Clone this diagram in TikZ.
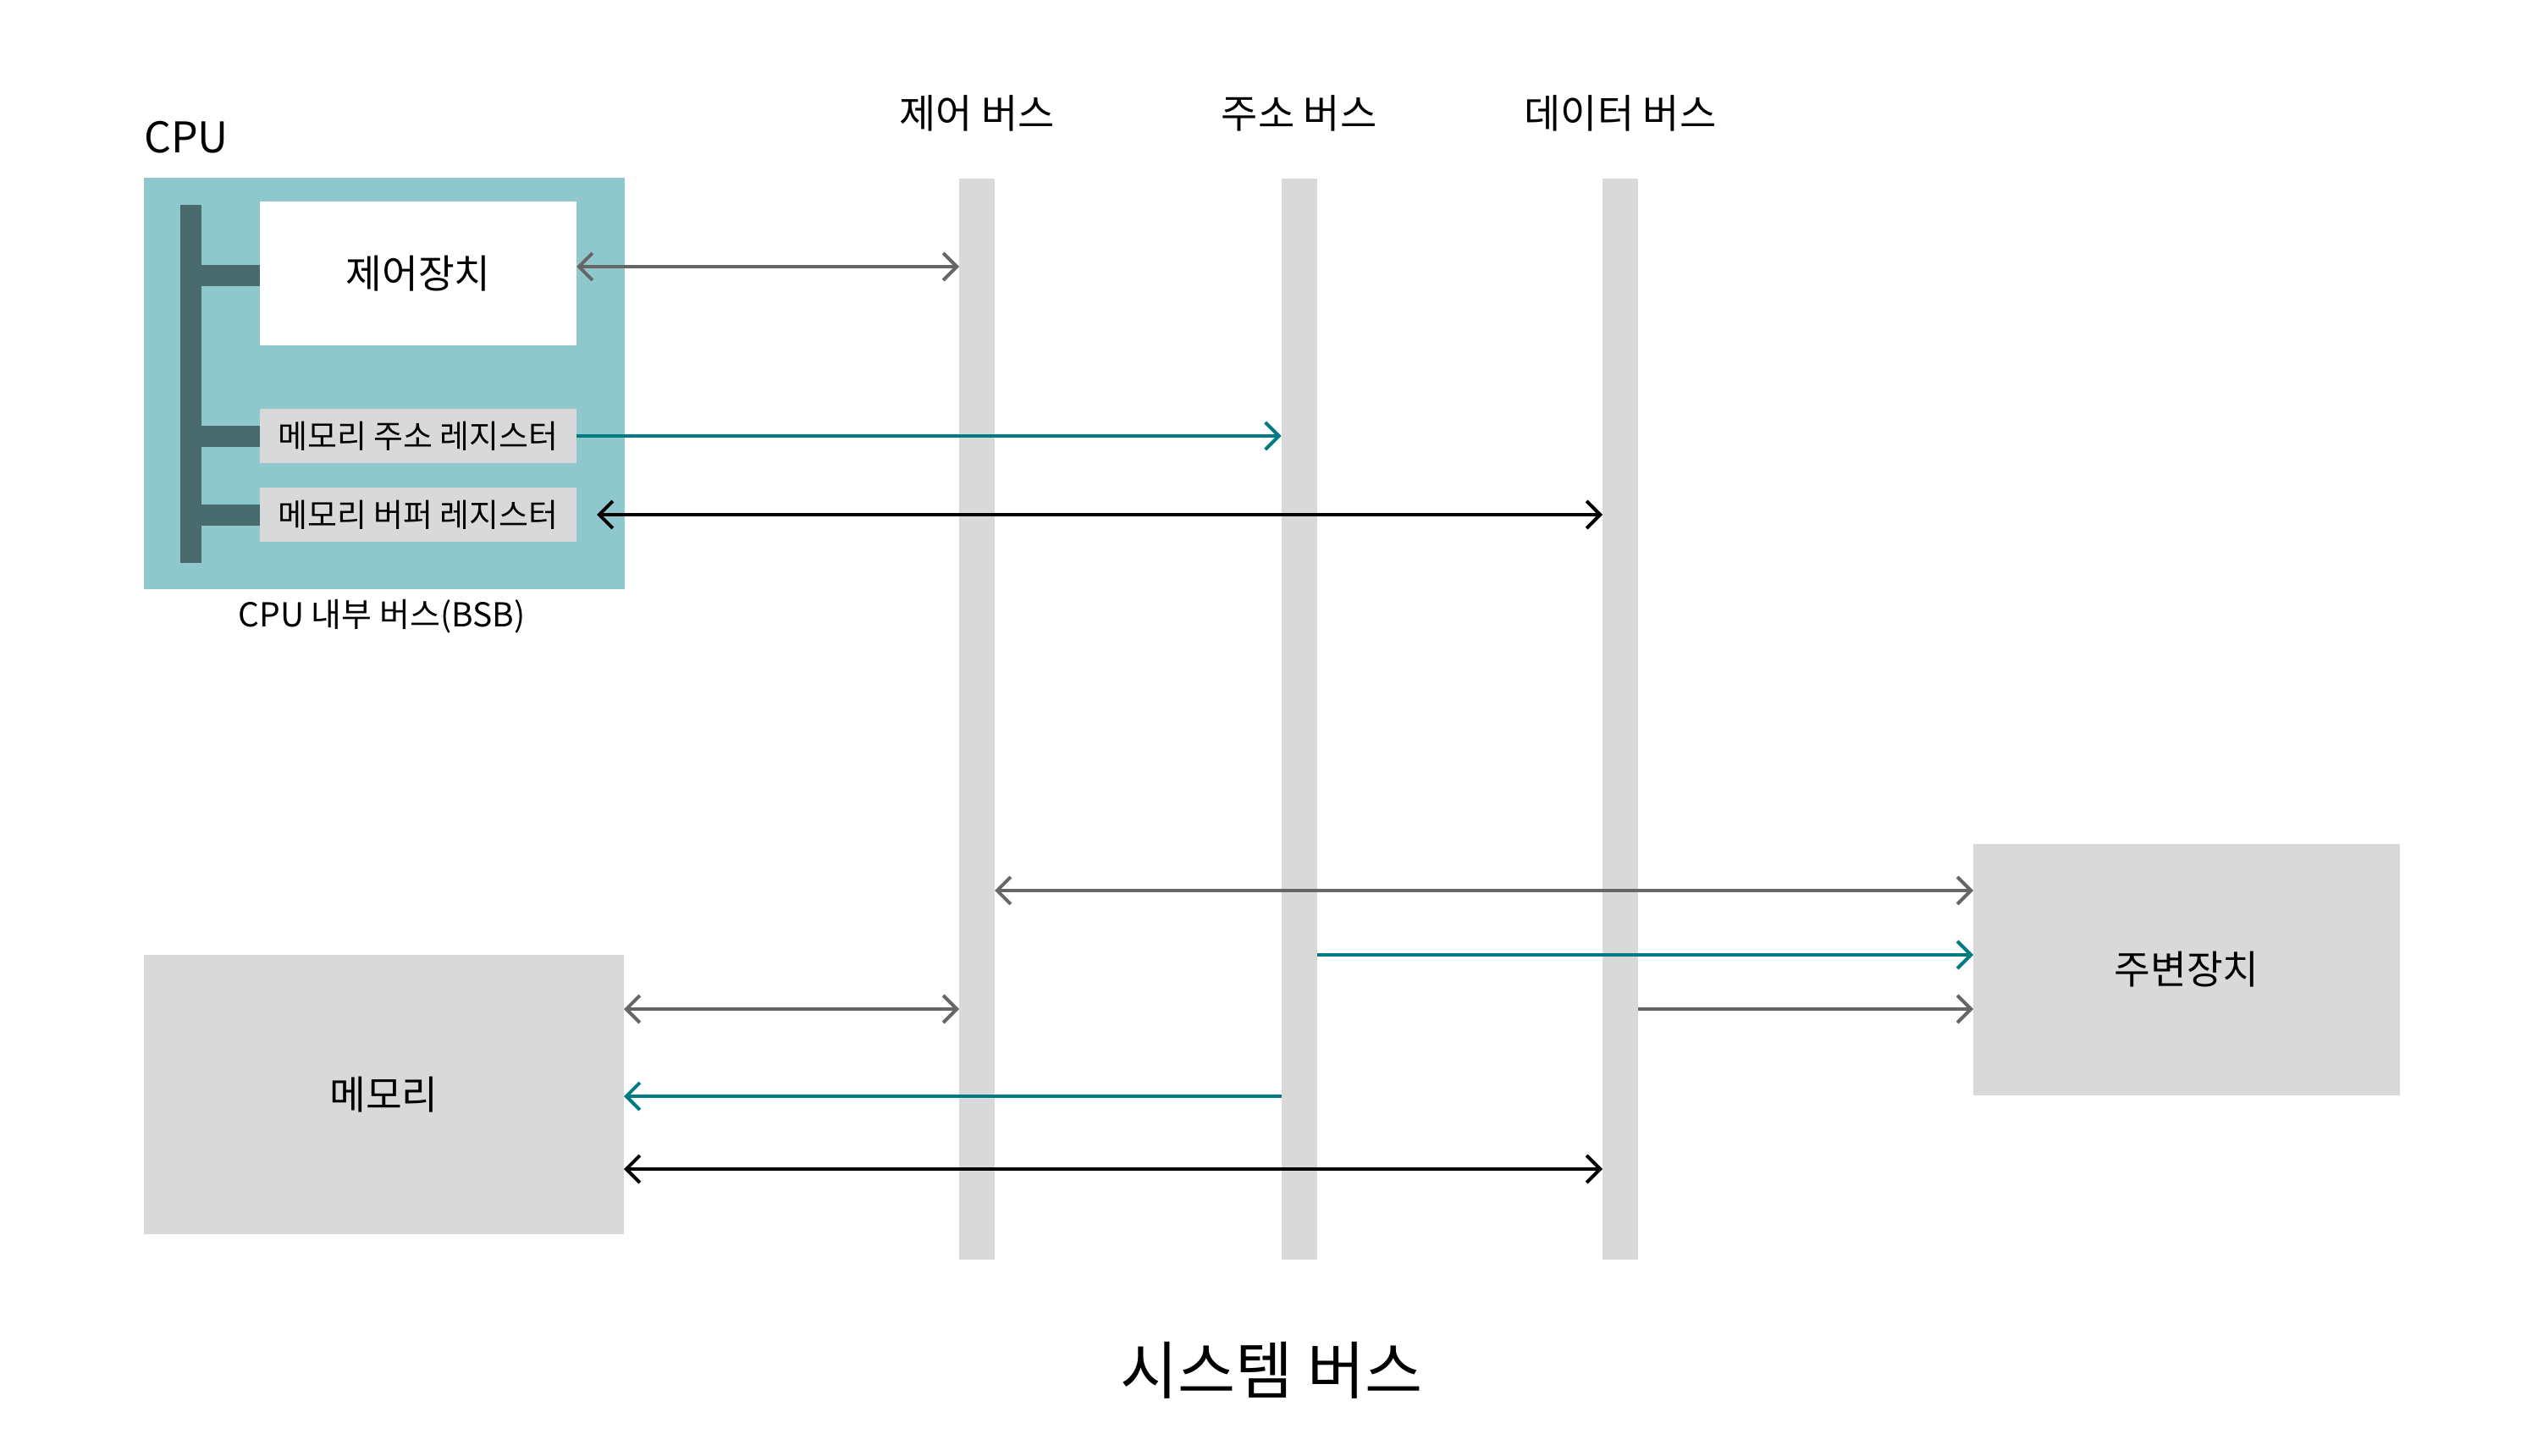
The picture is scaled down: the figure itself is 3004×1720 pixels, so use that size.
\documentclass[tikz,border=0pt]{standalone}
\usepackage{fontspec}
\setmainfont{Noto Sans CJK KR}
\usetikzlibrary{arrows.meta,calc}
\definecolor{cpubg}{HTML}{8FC8CC}
\definecolor{cpubar}{HTML}{4A6B6E}
\definecolor{lgray}{HTML}{D9D9D9}
\definecolor{agray}{HTML}{666666}
\definecolor{ateal}{HTML}{007B83}
\begin{document}
\begin{tikzpicture}[x=1pt,y=-1pt,
  blk/.style={inner sep=0pt,outer sep=0pt,draw=none},
  busbar/.style={blk,fill=lgray,minimum width=42pt,minimum height=1277pt},
  reg/.style={blk,fill=lgray,minimum width=374pt,minimum height=64pt,font=\fontsize{38}{44}\selectfont},
  unitbox/.style={blk,fill=lgray,font=\fontsize{46.5}{52}\selectfont},
  buslabel/.style={font=\fontsize{47}{52}\selectfont,inner sep=0pt},
  >={Straight Barb[length=16pt,width=32pt]},
  conn/.style={line width=4pt},
  cgray/.style={conn,draw=agray},
  cteal/.style={conn,draw=ateal},
  cblack/.style={conn,draw=black}]
\useasboundingbox (0,0) rectangle (3004,1720);
\fill[white] (0,0) rectangle (3004,1720);

% CPU
\node[blk,fill=cpubg,minimum width=568pt,minimum height=486pt] (cpu) at (454,453) {};
\node[anchor=west,inner sep=0pt,font=\fontsize{50}{56}\selectfont] (cpulabel) at (170,162) {CPU};
\node[blk,fill=cpubar,minimum width=25pt,minimum height=423pt] (bsb) at (225.5,453.5) {};
\node[blk,fill=white,minimum width=374pt,minimum height=170pt,font=\fontsize{46.5}{52}\selectfont] (cu) at (494,323) {제어장치};
\node[reg] (mar) at (494,515) {메모리 주소 레지스터};
\node[reg] (mbr) at (494,608) {메모리 버퍼 레지스터};
\fill[cpubar] (bsb.east |- 0,313) rectangle (cu.west |- 0,338);
\fill[cpubar] (bsb.east |- 0,503) rectangle (mar.west |- 0,528);
\fill[cpubar] (bsb.east |- 0,596) rectangle (mbr.west |- 0,621);
\node[inner sep=0pt,font=\fontsize{39}{44}\selectfont] (bsblabel) at (451,728) {CPU 내부 버스(BSB)};

% buses
\node[busbar] (cbus) at (1154,849.5) {};
\node[busbar] (abus) at (1534.5,849.5) {};
\node[busbar] (dbus) at (1914,849.5) {};
\node[buslabel] (cbl) at (1154,134) {제어 버스};
\node[buslabel] (abl) at (1534.5,134) {주소 버스};
\node[buslabel] (dbl) at (1914,134) {데이터 버스};

% memory and peripheral
\node[unitbox,minimum width=567pt,minimum height=330pt] (mem) at (453.5,1293) {메모리};
\node[unitbox,minimum width=504pt,minimum height=297pt] (per) at (2583,1145.5) {주변장치};

% title
\node[inner sep=0pt,font=\fontsize{74}{84}\selectfont] (title) at (1502,1619) {시스템 버스};

% row coordinates
\coordinate (r1) at (0,315);
\coordinate (r4) at (0,1052);
\coordinate (r5) at (0,1128);
\coordinate (r6) at (0,1192);
\coordinate (r8) at (0,1295);
\coordinate (r9) at (0,1381);
\coordinate (mbrgap) at ($(mbr.east)+(24,0)$);

% connectors CPU
\draw[cgray,<->] (cu.east |- r1) -- (cbus.west |- r1);
\draw[cteal,->] (mar.east) -- (mar.east -| abus.west);
\draw[cblack,<->] (mbrgap) -- (mbrgap -| dbus.west);
% connectors peripheral
\draw[cgray,<->] (cbus.east |- r4) -- (per.west |- r4);
\draw[cteal,->] (abus.east |- r5) -- (per.west |- r5);
\draw[cgray,->] (dbus.east |- r6) -- (per.west |- r6);
% connectors memory
\draw[cgray,<->] (mem.east |- r6) -- (cbus.west |- r6);
\draw[cteal,->] (abus.west |- r8) -- (mem.east |- r8);
\draw[cblack,<->] (mem.east |- r9) -- (dbus.west |- r9);
\end{tikzpicture}
\end{document}
